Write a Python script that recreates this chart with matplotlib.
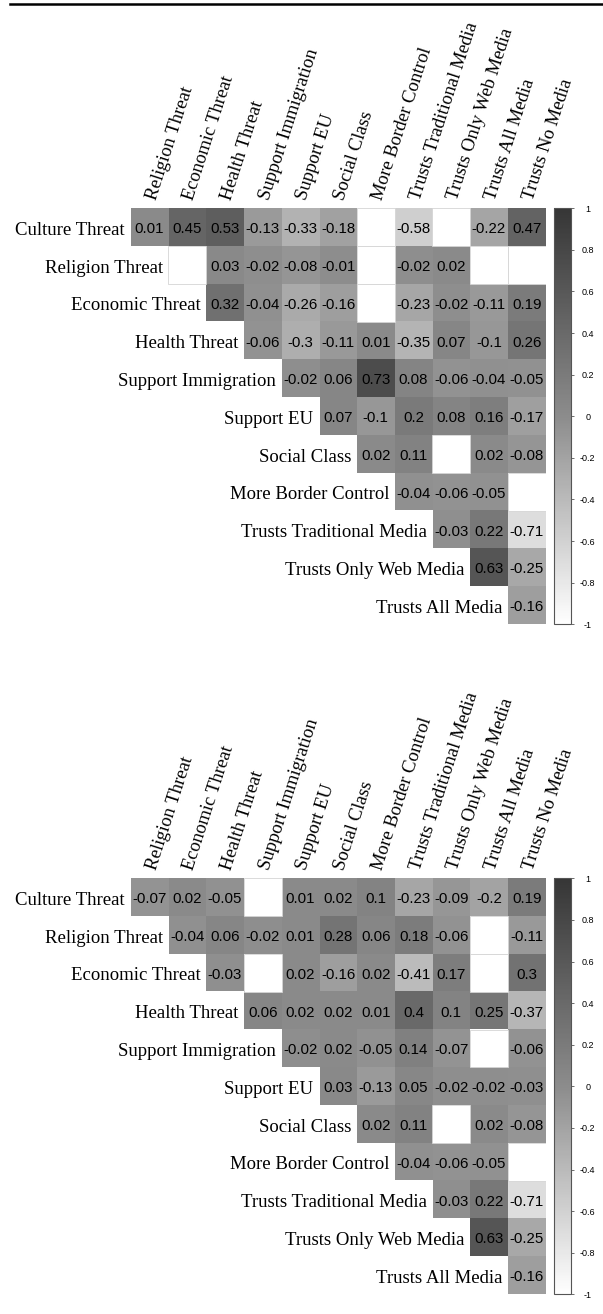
import numpy as np
import matplotlib.pyplot as plt
from matplotlib.colors import LinearSegmentedColormap
from matplotlib.patches import Rectangle
from matplotlib.lines import Line2D
from matplotlib.cm import ScalarMappable
from matplotlib.colors import Normalize

nan = np.nan

row_labels = ['Culture Threat', 'Religion Threat', 'Economic Threat', 'Health Threat',
              'Support Immigration', 'Support EU', 'Social Class', 'More Border Control',
              'Trusts Traditional Media', 'Trusts Only Web Media', 'Trusts All Media']
col_labels = ['Religion Threat', 'Economic Threat', 'Health Threat', 'Support Immigration',
              'Support EU', 'Social Class', 'More Border Control', 'Trusts Traditional Media',
              'Trusts Only Web Media', 'Trusts All Media', 'Trusts No Media']

# upper triangle: row i holds columns i..10, nan = left blank
corr_top = [
    [0.01, 0.45, 0.53, -0.13, -0.33, -0.18, nan, -0.58, nan, -0.22, 0.47],
    [nan, 0.03, -0.02, -0.08, -0.01, nan, -0.02, 0.02, nan, nan],
    [0.32, -0.04, -0.26, -0.16, nan, -0.23, -0.02, -0.11, 0.19],
    [-0.06, -0.3, -0.11, 0.01, -0.35, 0.07, -0.1, 0.26],
    [-0.02, 0.06, 0.73, 0.08, -0.06, -0.04, -0.05],
    [0.07, -0.1, 0.2, 0.08, 0.16, -0.17],
    [0.02, 0.11, nan, 0.02, -0.08],
    [-0.04, -0.06, -0.05, nan],
    [-0.03, 0.22, -0.71],
    [0.63, -0.25],
    [-0.16],
]

corr_bottom = [
    [-0.07, 0.02, -0.05, nan, 0.01, 0.02, 0.1, -0.23, -0.09, -0.2, 0.19],
    [-0.04, 0.06, -0.02, 0.01, 0.28, 0.06, 0.18, -0.06, nan, -0.11],
    [-0.03, nan, 0.02, -0.16, 0.02, -0.41, 0.17, nan, 0.3],
    [0.06, 0.02, 0.02, 0.01, 0.4, 0.1, 0.25, -0.37],
    [-0.02, 0.02, -0.05, 0.14, -0.07, nan, -0.06],
    [0.03, -0.13, 0.05, -0.02, -0.02, -0.03],
    [0.02, 0.11, nan, 0.02, -0.08],
    [-0.04, -0.06, -0.05, nan],
    [-0.03, 0.22, -0.71],
    [0.63, -0.25],
    [-0.16],
]

cbar_ticks = [-1, -0.8, -0.6, -0.4, -0.2, 0, 0.2, 0.4, 0.6, 0.8, 1]
cbar_labels = ['-1', '-0.8', '-0.6', '-0.4', '-0.2', '0', '0.2', '0.4', '0.6', '0.8', '1']

cmap = LinearSegmentedColormap.from_list('greys', ['#ffffff', '#8c8c8c', '#363636'])
norm = Normalize(vmin=-1, vmax=1)

W, H = 603, 1314
fig = plt.figure(figsize=(W / 100, H / 100), dpi=100)


def fmt(v):
    s = f'{v:.2f}'.rstrip('0').rstrip('.')
    return s


def draw_panel(top_px, data):
    n = len(row_labels)
    left, right = 130.7, 545.5
    bottom = top_px + 416
    ax = fig.add_axes([left / W, 1 - bottom / H, (right - left) / W, 416 / H])
    cax = fig.add_axes([554.3 / W, 1 - bottom / H, 16.4 / W, 416 / H])

    grid = np.full((n, n), nan)
    for i, row in enumerate(data):
        grid[i, i:] = row
    ax.imshow(np.ma.masked_invalid(grid), cmap=cmap, norm=norm, extent=(0, n, n, 0),
              aspect='auto', interpolation='nearest')

    for i, row in enumerate(data):
        for k, v in enumerate(row):
            j = i + k
            if np.isnan(v):
                ax.add_patch(Rectangle((j, i), 1, 1, facecolor='white',
                                       edgecolor='#d4d4d4', lw=0.6))
            else:
                ax.text(j + 0.5, i + 0.55, fmt(v), ha='center', va='center',
                        fontsize=10.8, family='Liberation Sans', color='black')
        ax.text(i - 0.15, i + 0.58, row_labels[i], ha='right', va='center',
                fontsize=13.5, family='Liberation Serif')

    for j, lab in enumerate(col_labels):
        ax.text(j + 0.55, -0.24, lab, rotation=72, rotation_mode='anchor',
                ha='left', va='center', fontsize=13.5, family='Liberation Serif')

    ax.set_xlim(0, n)
    ax.set_ylim(n, 0)
    ax.axis('off')

    cb = fig.colorbar(ScalarMappable(norm=norm, cmap=cmap), cax=cax, ticks=cbar_ticks)
    cb.outline.set_edgecolor('#555555')
    cb.outline.set_linewidth(0.8)
    cax.set_yticklabels(cbar_labels)
    cax.tick_params(axis='y', length=2.5, width=0.6, color='#555555',
                    labelsize=6.5, pad=9.7)
    for t in cax.get_yticklabels():
        t.set_ha('center')
        t.set_family('Liberation Sans')


draw_panel(208.3, corr_top)
draw_panel(878.3, corr_bottom)

# rule across the top of the page
fig.add_artist(Line2D([10 / W, 1], [1 - 3.8 / H, 1 - 3.8 / H], color='black', lw=1.8,
                      transform=fig.transFigure))

fig.savefig('out.png', dpi=100)
